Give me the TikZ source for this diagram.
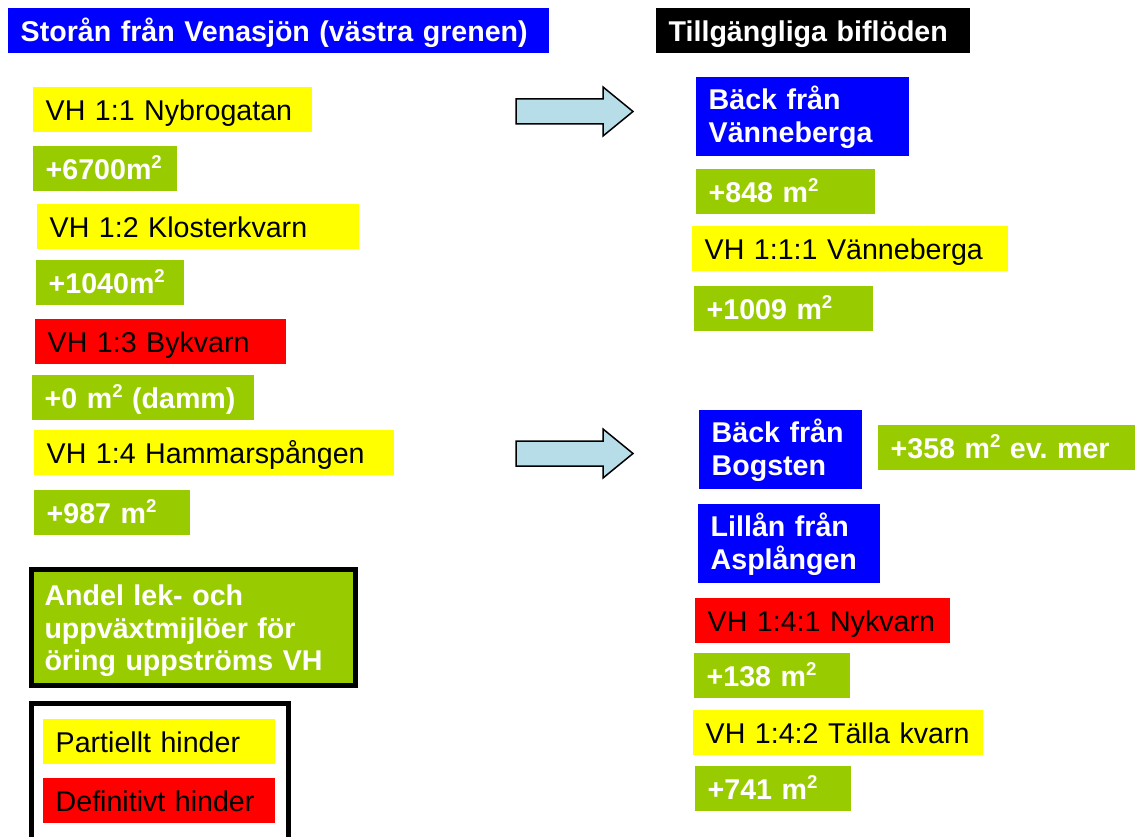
\documentclass[tikz,border=0pt]{standalone}
\usepackage{fontspec}
\setmainfont{Liberation Sans}
\usepackage{tikz}
\definecolor{riverblue}{HTML}{0000FF}
\definecolor{habitatgreen}{HTML}{99CC00}
\definecolor{partialyellow}{HTML}{FFFF00}
\definecolor{definitered}{HTML}{FF0000}
\definecolor{arrowfill}{HTML}{B7DEE8}
\newcommand{\boxfont}{\fontsize{28.6}{32.5}\selectfont}
\newcommand{\sqm}{m\raisebox{10.5pt}{\fontsize{18.6}{18.6}\selectfont 2}}
\tikzstyle{cell} = [anchor=north west, inner xsep=12.5pt, inner ysep=0pt, align=left, font=\boxfont]
\tikzstyle{oneline} = [cell, minimum height=45pt, text height=23pt, text depth=2pt,
	execute at begin node=\hbox\bgroup, execute at end node=\egroup]
\tikzstyle{partial} = [oneline, fill=partialyellow]
\tikzstyle{definite} = [oneline, fill=definitered]
\tikzstyle{habitat} = [oneline, fill=habitatgreen, text=white, font={\boxfont\bfseries}]
\tikzstyle{heading} = [oneline, text=white, font={\boxfont\bfseries}]
\tikzstyle{stream} = [cell, fill=riverblue, text=white, font={\boxfont\bfseries}, minimum height=79pt, text height=25pt]
\tikzstyle{bigarrow} = [draw=black, fill=arrowfill, line width=1.5pt, line join=miter]
\tikzstyle{frame} = [draw=black, line width=5pt]

\begin{document}
\begin{tikzpicture}[x=1pt,y=-1pt]
	\useasboundingbox (0,0) rectangle (1135,837);

	% ------------------- Headings ------------------- %
	\node[heading, fill=riverblue, text width=516pt] (mainriver) at (8,8) {Storån från Venasjön (västra grenen)};
	\node[heading, fill=black, text width=289pt] (tributaries) at (656,8) {Tillgängliga biflöden};

	% ------------------- Western branch ------------------- %
	\node[partial, text width=254pt] (nybrogatan) at (33,87) {VH 1:1 Nybrogatan};
	\node[habitat, text width=119pt] (nybrogatanarea) at (33,146) {+6700\sqm};
	\node[partial, text width=297pt] (klosterkvarn) at (37,204) {VH 1:2 Klosterkvarn};
	\node[habitat, text width=123pt] (klosterkvarnarea) at (36,260) {+1040\sqm};
	\node[definite, text width=226pt] (bykvarn) at (35,319) {VH 1:3 Bykvarn};
	\node[habitat, text width=197pt] (bykvarnarea) at (32,375) {+0 \sqm{} (damm)};
	\node[partial, text width=335pt] (hammarspangen) at (34,430) {VH 1:4 Hammarspången};
	\node[habitat, text width=131pt] (hammarspangenarea) at (34,490) {+987 \sqm};

	% ------------------- Explanation + legend ------------------- %
	\node[cell, frame, outer sep=0pt, fill=habitatgreen, text=white, font={\boxfont\bfseries}, inner xsep=13pt,
		text width=298pt, minimum height=116pt, text height=27.5pt] (share) at (31.5,569.5)
		{Andel lek- och\\uppväxtmijlöer för\\öring uppströms VH};
	\draw[frame] (31.5,860) -- (31.5,703.5) -- (288.5,703.5) -- (288.5,860);
	\node[partial, text width=207pt] (legendpartial) at (43,719) {Partiellt hinder};
	\node[definite, text width=207pt] (legenddefinite) at (43,778) {Definitivt hinder};

	% ------------------- Block arrows ------------------- %
	\draw[bigarrow] (516,99) -- (603,99) -- (603,87) -- (633,111.5) -- (603,136) -- (603,124) -- (516,124) -- cycle;
	\draw[bigarrow] (516,441) -- (603,441) -- (603,429) -- (633,453.5) -- (603,478) -- (603,466) -- (516,466) -- cycle;

	% ------------------- Tributaries ------------------- %
	\node[stream, text width=188pt] (vanneberga) at (696,77) {Bäck från\\Vänneberga};
	\node[habitat, text width=154pt] (vannebergaarea) at (696,169) {+848 \sqm};
	\node[partial, text width=291pt] (vannebergavh) at (692,226) {VH 1:1:1 Vänneberga};
	\node[habitat, text width=154pt] (vannebergavharea) at (694,286) {+1009 \sqm};

	\node[stream, text width=138pt] (bogsten) at (699,410) {Bäck från\\Bogsten};
	\node[habitat, text width=250pt] (bogstenarea) at (878,425) {+358 \sqm{} ev.\ mer};
	\node[stream, text width=157pt] (asplangen) at (698,504) {Lillån från\\Asplången};
	\node[definite, text width=230pt] (nykvarn) at (695,598) {VH 1:4:1 Nykvarn};
	\node[habitat, text width=131pt] (nykvarnarea) at (694,653) {+138 \sqm};
	\node[partial, text width=265pt] (tallakvarn) at (693,710) {VH 1:4:2 Tälla kvarn};
	\node[habitat, text width=131pt] (tallakvarnarea) at (695,766) {+741 \sqm};

\end{tikzpicture}
\end{document}
